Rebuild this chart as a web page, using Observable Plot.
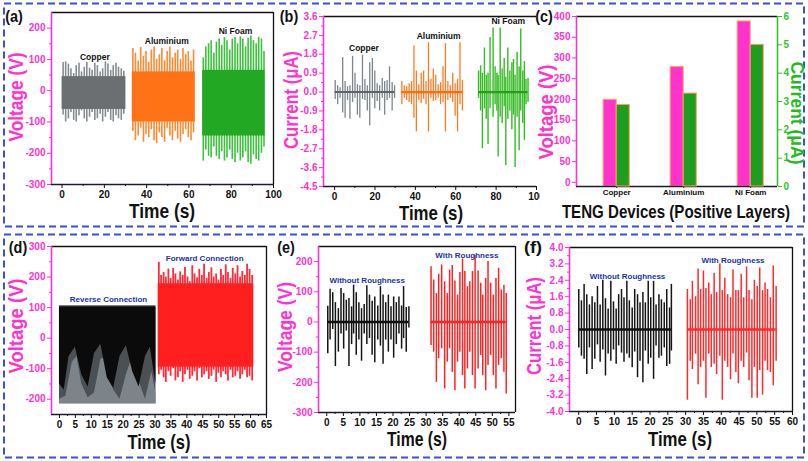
<!DOCTYPE html>
<html><head><meta charset="utf-8">
<script src="https://cdn.jsdelivr.net/npm/d3@7"></script>
<script src="https://cdn.jsdelivr.net/npm/@observablehq/plot@0.6"></script>
<style>
body{margin:0;background:#fff;}
#fig{position:relative;width:808px;height:461px;overflow:hidden;background:#fff;font-family:"Liberation Sans",Arial,Helvetica,sans-serif;}
.lbl{position:absolute;font-weight:bold;white-space:nowrap;line-height:0.9;transform-origin:50% 50%;}
</style></head>
<body><div id="fig"></div>
<script>
// ================= DATA =================
// (a) voltage, positive layers
const aNames = ["Copper", "Aluminium", "Ni Foam"];
const aCuT  = [0.5,1.7,3.0,4.2,5.5,6.7,8.0,9.2,10.5,11.7,13.0,14.2,15.5,16.7,18.0,19.2,20.5,21.7,23.0,24.2,25.5,26.7,28.0,29.2];
const aCuHi = [90,92,85,70,55,80,88,60,75,90,72,65,88,80,60,70,92,85,65,80,88,75,70,62];
const aCuLo = [-78,-100,-90,-70,-95,-100,-80,-65,-90,-100,-85,-70,-95,-90,-75,-100,-85,-70,-95,-100,-80,-90,-95,-75];
const aAlT  = [33.5,34.7,36.0,37.2,38.5,39.7,41.0,42.2,43.5,44.7,46.0,47.2,48.5,49.7,51.0,52.2,53.5,54.7,56.0,57.2,58.5,59.7,61.0,62.2];
const aAlHi = [135,120,95,138,110,125,90,130,140,100,115,135,95,125,140,105,120,130,100,135,115,125,95,130];
const aAlLo = [-130,-160,-145,-120,-165,-140,-150,-125,-160,-170,-135,-150,-165,-120,-145,-160,-130,-155,-165,-140,-125,-150,-160,-135];
const aNiT  = [66.8,68.0,69.3,70.5,71.8,73.0,74.3,75.5,76.8,78.0,79.3,80.5,81.8,83.0,84.3,85.5,86.8,88.0,89.3,90.5,91.8,93.0,94.3,95.5];
const aNiHi = [105,140,150,160,120,155,165,145,170,160,130,165,170,150,172,165,140,168,175,160,150,170,165,125];
const aNiLo = [-225,-190,-210,-215,-180,-210,-220,-195,-225,-215,-190,-220,-230,-200,-225,-215,-195,-230,-235,-205,-220,-225,-200,-180];
const aCoreStart = [0, 33.2, 66.5];
const aCoreEnd   = [30.2, 63.0, 96.0];
const aCoreLo    = [-60, -100, -145];
const aCoreHi    = [45, 60, 65];
const aNameT = [15.5, 49.5, 82];
const aNameV = [107, 158, 189];

// (b) current, positive layers
const bCuT  = [0.3,1.5,2.7,4.0,5.2,6.4,7.6,8.9,10.1,11.3,12.5,13.8,15.0,16.2,17.4,18.7,19.9,21.1,22.3,23.6,24.8,26.0,27.2,28.5,29.7];
const bCuHi = [0.55,0.3,0.2,1.65,0.5,0.25,0.3,1.7,0.9,0.35,0.3,1.75,0.6,0.3,1.4,1.6,1.0,0.4,0.3,0.65,0.5,0.55,1.2,0.45,0.3];
const bCuLo = [-0.35,-0.6,-0.3,-1.0,-1.25,-0.4,-1.3,-0.5,-0.3,-1.1,-1.25,-0.35,-0.4,-0.9,-1.6,-0.3,-0.8,-0.45,-0.9,-0.3,-1.1,-0.4,-0.3,-0.9,-0.3];
const bAlT  = [33.3,34.5,35.7,36.9,38.1,39.3,40.5,41.7,42.9,44.1,45.3,46.5,47.7,48.9,50.1,51.3,52.5,53.7,54.9,56.1,57.3,58.5,59.7,60.9,62.1,63.3];
const bAlHi = [0.5,0.3,0.25,0.4,0.5,2.2,1.0,0.35,0.9,1.0,0.5,2.35,0.6,1.1,0.8,0.35,0.45,1.2,2.3,0.5,0.3,0.9,0.4,0.6,2.35,0.55];
const bAlLo = [-0.6,-0.3,-0.4,-0.5,-0.6,-1.25,-1.9,-0.4,-0.55,-0.35,-0.6,-1.9,-0.3,-0.45,-0.4,-0.3,-0.6,-0.5,-1.9,-0.4,-0.3,-0.5,-1.15,-1.9,-0.6,-0.9];
const bNiT  = [71.3,72.3,73.2,74.2,75.1,76.0,77.0,78.5,79.5,80.4,81.0,82.0,83.0,84.0,84.8,85.8,86.8,87.8,88.6,89.4,90.4,91.4,92.2,93.2,94.0,94.8,95.8];
const bNiHi = [1.0,1.25,0.9,2.1,0.8,0.9,2.6,3.05,1.2,0.9,0.8,3.05,1.1,1.6,0.7,2.1,1.0,1.4,1.55,0.8,1.9,1.2,3.0,1.0,1.45,0.6,0.65];
const bNiLo = [-0.3,-0.9,-2.7,-0.8,-1.3,-2.5,-0.8,-1.2,-0.6,-0.9,-3.1,-1.2,-1.5,-0.7,-3.5,-1.3,-0.9,-1.8,-1.1,-3.6,-1.2,-2.8,-0.9,-1.5,-2.3,-0.6,-0.5];
const bNameT = [14.5, 51.5, 86];
const bNameI = [2.08, 2.65, 3.38];

// (c) TENG devices
const cCats = ["Copper", "Aluminium", "Ni Foam"];
const cVolt = [199, 278, 388];
const cCurr = [2.88, 3.28, 5.0];

// (d) reverse / forward connection
const dNames = ["Reverse Connection", "Forward Connection"];
const dBlockStart = [0, 31.0];
const dBlockEnd   = [30.3, 61.0];
const dBlockLo    = [-215, -95];
const dBlockHi    = [106, 178];
const dRevBlackT   = [0,1.5,3,5,7,9,11,13,15,17,19,21,23,25,27,28.5,30.3];
const dRevBlackLow = [-150,-170,-60,-30,-120,-160,-50,-20,-130,-165,-60,-25,-110,-160,-60,-30,-150];
const dRevLightT   = [0,2,4,5.5,7,9,11,13,15,17,19,21,23,25,27,29,30.3];
const dRevLightTop = [-200,-190,-80,-60,-150,-195,-180,-70,-60,-170,-200,-120,-60,-140,-200,-110,-180];
const dFwT  = [31.2,31.9,32.7,33.4,34.2,34.9,35.7,36.4,37.2,37.9,38.7,39.4,40.2,40.9,41.7,42.4,43.2,43.9,44.7,45.4,46.2,46.9,47.7,48.4,49.2,49.9,50.7,51.4,52.2,52.9,53.7,54.4,55.2,55.9,56.7,57.4,58.2,58.9,59.7,60.5];
const dFwHi = [248,205,215,200,226,195,228,210,190,217,205,231,200,185,237,210,198,225,205,242,195,215,230,200,210,190,225,205,240,215,195,228,210,237,200,218,205,242,225,205];
const dFwLo = [-120,-105,-130,-145,-110,-125,-100,-140,-130,-110,-145,-120,-105,-135,-125,-110,-140,-100,-130,-120,-110,-135,-125,-105,-145,-115,-130,-110,-120,-140,-105,-130,-125,-110,-135,-120,-105,-130,-125,-140];
const dNameT = [15.4, 45.6];
const dNameV = [127, 261];

// (e) voltage with / without roughness
const rNames = ["Without Roughness", "With Roughness"];
const eBkT  = [0.3,1.0,1.8,2.6,3.5,4.3,5.1,5.9,6.7,7.5,8.1,8.9,9.7,10.5,11.3,12.1,12.9,13.7,14.5,15.4,16.2,17.0,17.8,18.6,19.4,20.2,21.0,21.8,22.6,23.2,24.0,24.8];
const eBkHi = [52,108,97,64,44,111,94,72,78,50,122,97,64,44,58,120,89,69,83,53,117,89,64,89,50,83,64,83,53,117,48,50];
const eBkLo = [-105,-60,-25,-148,-100,-40,-90,-30,-148,-75,-40,-110,-60,-130,-40,-75,-55,-110,-135,-60,-80,-140,-60,-100,-60,-120,-75,-40,-90,-55,-100,-20];
const eRdT  = [31.5,32.3,33.1,33.8,34.7,35.6,36.4,37.1,37.9,38.7,39.5,40.2,41.0,41.7,42.5,43.2,44.0,44.8,45.7,46.5,47.1,48.0,48.7,49.5,50.3,51.1,51.9,52.7,53.5,54.2];
const eRdHi = [183,139,94,158,189,133,94,172,187,136,89,164,209,167,117,133,167,220,169,128,89,144,200,128,89,144,178,106,122,94];
const eRdLo = [-78,-100,-200,-122,-89,-222,-133,-89,-167,-228,-133,-100,-178,-222,-156,-100,-178,-222,-156,-111,-178,-228,-144,-111,-178,-222,-144,-122,-167,-239];
const eNameT = [12.2, 42.3];
const eNameV = [139, 222];

// (f) current with / without roughness
const fBkT  = [0.0,0.75,1.5,2.25,3.0,3.75,4.5,5.25,6.0,6.75,7.5,8.25,9.0,9.75,10.5,11.2,12.0,12.7,13.5,14.2,15.0,15.7,16.5,17.2,18.0,18.7,19.5,20.2,21.0,21.7,22.5,23.2,24.0,24.7,25.5,26.0];
const fBkHi = [1.95,1.4,2.2,1.7,1.2,1.6,1.3,2.1,1.2,2.4,1.5,1.0,2.35,1.35,1.0,1.7,1.95,1.55,2.35,1.4,1.05,1.95,1.7,1.3,1.8,1.3,2.35,1.55,2.35,1.2,1.7,1.45,1.3,1.95,1.05,2.2];
const fBkLo = [-0.9,-1.3,-1.45,-2.2,-0.9,-1.95,-1.45,-0.75,-1.6,-1.0,-2.27,-1.2,-1.55,-1.0,-1.7,-0.8,-1.15,-1.6,-1.2,-1.4,-1.87,-1.1,-2.35,-1.55,-2.6,-1.05,-1.7,-1.4,-2.43,-0.8,-1.4,-1.3,-0.9,-1.8,-1.7,-1.05];
const fRdT  = [30.5,31.3,31.9,32.8,33.5,34.2,35.0,35.7,36.5,37.2,38.0,38.7,39.6,40.3,41.0,41.8,42.6,43.3,44.1,44.8,45.6,46.3,47.1,47.8,48.6,49.3,50.1,50.8,51.6,52.3,53.0,53.8,54.6,55.4];
const fRdHi = [1.95,1.45,2.35,1.6,2.95,1.95,2.85,2.0,2.27,1.7,2.75,1.8,3.2,1.9,2.5,1.7,1.55,2.9,1.9,1.9,2.7,1.55,3.05,1.9,1.45,2.4,2.1,3.0,1.9,2.27,1.95,1.55,3.1,2.1];
const fRdLo = [-3.45,-1.55,-1.95,-1.2,-2.7,-1.85,-1.55,-3.35,-1.2,-1.85,-1.7,-2.2,-1.3,-3.45,-1.55,-1.85,-2.45,-1.2,-2.1,-2.65,-1.55,-1.85,-1.15,-2.5,-3.35,-1.85,-3.35,-2.0,-3.2,-1.55,-2.0,-2.1,-2.75,-1.55];
const fNameT = [13.7, 43.3];
const fNameI = [2.58, 3.37];

// tick values / labels
const ticksA = [0,20,40,60,80,100], minorA = [10,30,50,70,90];
const vTicksA = [-300,-200,-100,0,100,200], vMinorA = [-250,-150,-50,50,150];
const iTicksB = [-4.5,-3.6,-2.7,-1.8,-0.9,0,0.9,1.8,2.7,3.6];
const iMinorB = [-4.05,-3.15,-2.25,-1.35,-0.45,0.45,1.35,2.25,3.15];
const vTicksC = [0,50,100,150,200,250,300,350,400];
const iTicksC = [0,1,2,3,4,5,6];
const tTicksD = [0,5,10,15,20,25,30,35,40,45,50,55,60,65];
const tMinorD = [2.5,7.5,12.5,17.5,22.5,27.5,32.5,37.5,42.5,47.5,52.5,57.5,62.5];
const vTicksD = [-200,-100,0,100,200,300], vMinorD = [-150,-50,50,150,250];
const tTicksE = [0,5,10,15,20,25,30,35,40,45,50,55];
const tMinorE = [2.5,7.5,12.5,17.5,22.5,27.5,32.5,37.5,42.5,47.5,52.5];
const vTicksE = [-300,-200,-100,0,100,200], vMinorE = [-250,-150,-50,50,150];
const tTicksF = [0,5,10,15,20,25,30,35,40,45,50,55,60];
const tMinorF = [2.5,7.5,12.5,17.5,22.5,27.5,32.5,37.5,42.5,47.5,52.5,57.5];
const iTicksF = [-4.0,-3.2,-2.4,-1.6,-0.8,0,0.8,1.6,2.4,3.2,4.0];
const iMinorF = [-3.6,-2.8,-2.0,-1.2,-0.4,0.4,1.2,2.0,2.8,3.6];

// ================= DRAWING =================
const fig = document.getElementById("fig");
const PINK = "#ff33cc", BLACK = "#111", GREENAX = "#2fc42f", BLUE = "#2233aa";
const FONT = "'Liberation Sans', Arial, Helvetica, sans-serif";

// dashed boxes
fig.insertAdjacentHTML("beforeend",
  `<svg width="808" height="461" style="position:absolute;left:0;top:0">
    <rect x="4" y="3.5" width="800" height="223" fill="none" stroke="#3b4fd8" stroke-width="2" stroke-dasharray="7 4"/>
    <rect x="4" y="234.5" width="800" height="223" fill="none" stroke="#3b4fd8" stroke-width="2" stroke-dasharray="7 4"/>
  </svg>`);

function addPlot({x0, y0, x1, y1, xd, yd, marks, ml = 45, mr = 14, mt = 10, mb = 24, clip = false, xAxisOff = false}) {
  const svg = Plot.plot({
    width: x1 - x0 + ml + mr, height: y1 - y0 + mt + mb,
    marginLeft: ml, marginRight: mr, marginTop: mt, marginBottom: mb,
    x: xAxisOff ? {domain: xd, axis: null} : {domain: xd}, y: {domain: yd},
    style: {fontFamily: FONT, fontWeight: "bold", fontSize: "10px", background: "transparent", overflow: clip ? "hidden" : "visible"},
    marks
  });
  svg.style.position = "absolute";
  svg.style.left = (x0 - ml) + "px";
  svg.style.top = (y0 - mt) + "px";
  fig.appendChild(svg);
  return svg;
}
const fmtInt = d => String(d);
const fmt1 = d => d.toFixed(1);
function frameMarks(xd, yd, {top = true, right = true} = {}) {
  return [
    top ? Plot.ruleY([yd[1]], {stroke: BLACK, strokeWidth: 1.3}) : null,
    right ? Plot.ruleX([xd[1]], {stroke: BLACK, strokeWidth: 1.3}) : null,
    Plot.ruleY([yd[0]], {stroke: "#1a1a2e", strokeWidth: 1.6}),
    Plot.ruleX([xd[0]], {stroke: PINK, strokeWidth: 1.6})
  ];
}
function xAxes(major, minor, fmt = fmtInt, fs = 10, ts = 4, tp = 2) {
  return [
    Plot.axisX({ticks: major, tickSize: ts, tickPadding: tp, tickFormat: fmt, fill: BLACK, stroke: BLACK, fontSize: fs, fontWeight: "bold", label: null}),
    minor ? Plot.axisX({ticks: minor, tickSize: 2, tickFormat: () => "", stroke: BLACK, label: null}) : null
  ];
}
function yAxes(major, minor, fmt = fmtInt, color = PINK, anchor = "left") {
  return [
    Plot.axisY({anchor, ticks: major, tickSize: 4, tickPadding: 2, tickFormat: fmt, fill: color, stroke: color, fontSize: 10, fontWeight: "bold", label: null}),
    minor ? Plot.axisY({anchor, ticks: minor, tickSize: 2, tickFormat: () => "", stroke: color, label: null}) : null
  ];
}
function spikes(T, HI, LO, color, w) {
  const rows = T.map((t, i) => ({t, hi: HI[i], lo: LO[i]}));
  return Plot.ruleX(rows, {x: "t", y1: "lo", y2: "hi", stroke: color, strokeWidth: w});
}
function baseline(T, color, w) {
  return Plot.ruleY([{a: d3.min(T), b: d3.max(T)}], {y: () => 0, x1: "a", x2: "b", stroke: color, strokeWidth: w});
}
function names(N, X, Y, color, fs) {
  return Plot.text(N, {x: (d, i) => X[i], y: (d, i) => Y[i], text: d => d, fill: color, fontSize: fs, fontWeight: "bold"});
}

// ---- (a)
{
  const xd = [-5, 100], yd = [-300, 250];
  const cores = aCoreStart.map((s, i) => ({x1: s, x2: aCoreEnd[i], y1: aCoreLo[i], y2: aCoreHi[i], c: ["#6b6f72", "#ff7316", "#22a822"][i]}));
  addPlot({x0: 51, y0: 12, x1: 273, y1: 184, xd, yd, marks: [
    spikes(aCuT, aCuHi, aCuLo, "#878c90", 1.6),
    spikes(aAlT, aAlHi, aAlLo, "#ff8a30", 1.6),
    spikes(aNiT, aNiHi, aNiLo, "#3cc23c", 1.6),
    Plot.rect(cores, {x1: "x1", x2: "x2", y1: "y1", y2: "y2", fill: "c"}),
    names(aNames, aNameT, aNameV, BLACK, 8.5),
    ...frameMarks(xd, yd), ...xAxes(ticksA, minorA), ...yAxes(vTicksA, vMinorA)
  ]});
}
// ---- (b)
{
  const xd = [-5.5, 100], yd = [-4.5, 3.6];
  addPlot({x0: 323, y0: 16, x1: 536, y1: 186, xd, yd, mr: 4, clip: true, marks: [
    spikes(bCuT, bCuHi, bCuLo, "#7d868c", 1.3), baseline(bCuT, "#5d6367", 2),
    spikes(bAlT, bAlHi, bAlLo, "#ff7a22", 1.3), baseline(bAlT, "#ff6a10", 2.2),
    spikes(bNiT, bNiHi, bNiLo, "#33bb22", 1.4), baseline(bNiT, "#22a018", 2.2),
    names(aNames, bNameT, bNameI, BLACK, 8.5),
    ...frameMarks(xd, yd, {right: false}), ...xAxes(ticksA, minorA), ...yAxes(iTicksB, iMinorB, fmt1)
  ]});
}
// ---- (c)
{
  const xd = [0.4, 3.4], yd = [-10, 400];
  const rows = cCats.map((c, i) => ({i: i + 1, v: cVolt[i], a: cCurr[i]}));
  addPlot({x0: 576, y0: 16, x1: 777, y1: 186, xd, yd, mr: 30, marks: [
    Plot.rect(rows, {x1: d => d.i - 0.195, x2: d => d.i, y1: () => yd[0], y2: "v", fill: PINK, stroke: "#ffa060", strokeWidth: 1}),
    Plot.ruleY([yd[1]], {stroke: BLACK, strokeWidth: 1.3}),
    Plot.ruleY([yd[0]], {stroke: "#1a1a2e", strokeWidth: 1.6}),
    Plot.ruleX([xd[0]], {stroke: PINK, strokeWidth: 1.6}),
    ...xAxes([1, 2, 3], null, d => cCats[d - 1], 8, 2, 1),
    ...yAxes(vTicksC, null)
  ]});
  addPlot({x0: 576, y0: 16, x1: 777, y1: 186, xd, yd: [0, 6], mr: 30, xAxisOff: true, marks: [
    Plot.rect(rows, {x1: d => d.i, x2: d => d.i + 0.195, y1: () => 0, y2: "a", fill: "#1f9d1f", stroke: "#ffa060", strokeWidth: 1}),
    Plot.ruleX([xd[1]], {stroke: GREENAX, strokeWidth: 1.6}),
    ...yAxes(iTicksC, null, fmtInt, GREENAX, "right")
  ]});
}
// ---- (d)
{
  const xd = [-2.5, 65], yd = [-250, 300];
  const blocks = dBlockStart.map((s, i) => ({x1: s, x2: dBlockEnd[i], y1: dBlockLo[i], y2: dBlockHi[i], c: ["#4a5054", "#ff1f1f"][i]}));
  const light = dRevLightT.map((t, i) => ({t, v: dRevLightTop[i]}));
  const black = dRevBlackT.map((t, i) => ({t, v: dRevBlackLow[i]}));
  addPlot({x0: 51, y0: 246, x1: 266, y1: 414, xd, yd, marks: [
    spikes(dFwT, dFwHi, dFwLo, "#ff2b3a", 1.8),
    Plot.rect(blocks, {x1: "x1", x2: "x2", y1: "y1", y2: "y2", fill: "c"}),
    Plot.areaY(light, {x: "t", y1: () => dBlockLo[0], y2: "v", fill: "#7c8489"}),
    Plot.areaY(black, {x: "t", y1: "v", y2: () => dBlockHi[0] - 4, fill: "#0b0b0b"}),
    names(dNames, dNameT, dNameV, BLUE, 8),
    ...frameMarks(xd, yd), ...xAxes(tTicksD, tMinorD), ...yAxes(vTicksD, vMinorD)
  ]});
}
// ---- (e)
{
  const xd = [-2.5, 57], yd = [-300, 250];
  addPlot({x0: 318, y0: 246, x1: 515, y1: 412, xd, yd, marks: [
    spikes(eBkT, eBkHi, eBkLo, "#151515", 1.5), baseline(eBkT, "#111", 2.4),
    spikes(eRdT, eRdHi, eRdLo, "#ff2222", 1.5), baseline(eRdT, "#ff2222", 2.4),
    names(rNames, eNameT, eNameV, BLUE, 8),
    ...frameMarks(xd, yd), ...xAxes(tTicksE, tMinorE), ...yAxes(vTicksE, vMinorE)
  ]});
}
// ---- (f)
{
  const xd = [-2.6, 60], yd = [-4, 4];
  addPlot({x0: 569, y0: 247, x1: 792, y1: 411, xd, yd, marks: [
    spikes(fBkT, fBkHi, fBkLo, "#151515", 1.5), baseline(fBkT, "#111", 2.6),
    spikes(fRdT, fRdHi, fRdLo, "#ff2a2a", 1.5), baseline(fRdT, "#ff2a2a", 2.6),
    names(rNames, fNameT, fNameI, BLUE, 8),
    ...frameMarks(xd, yd), ...xAxes(tTicksF, tMinorF), ...yAxes(iTicksF, iMinorF, fmt1)
  ]});
}

// ================= TITLES =================
function label(text, cx, cy, size, color, rot, len) {
  const el = document.createElement("div");
  el.className = "lbl";
  el.textContent = text;
  el.style.fontSize = size + "px";
  el.style.color = color;
  el.style.left = cx + "px";
  el.style.top = cy + "px";
  fig.appendChild(el);
  const k = len ? len / el.offsetWidth : 1;
  el.style.transform = `translate(-50%,-50%) rotate(${rot}deg) scaleX(${k})`;
}
const panelTags = ["(a)", "(b)", "(c)", "(d)", "(e)", "(f)"];
const axisTitles = ["Time (s)", "Voltage (V)", "Current (μA)", "TENG Devices (Positive Layers)"];
[[14, 17], [289, 17], [544, 17], [18, 248], [286, 248], [533, 248]].forEach(([x, y], i) => label(panelTags[i], x, y, 16, BLACK, 0, 18));
// x titles
label(axisTitles[0], 162, 211, 21, BLACK, 0, 66);
label(axisTitles[0], 431, 213, 21, BLACK, 0, 64);
label(axisTitles[3], 676, 212, 19, BLACK, 0, 228);
label(axisTitles[0], 159, 442, 21, BLACK, 0, 63);
label(axisTitles[0], 417, 439, 21, BLACK, 0, 60);
label(axisTitles[0], 680, 439, 21, BLACK, 0, 64);
// y titles
label(axisTitles[1], 16, 97, 20, PINK, -90, 89);
label(axisTitles[2], 291, 100, 20, PINK, -90, 98);
label(axisTitles[1], 546, 112, 20, PINK, -90, 95);
label(axisTitles[2], 797, 113, 18, "#22bb22", 90, 103);
label(axisTitles[1], 16, 326, 20, PINK, -90, 95);
label(axisTitles[1], 285, 327, 20, PINK, -90, 90);
label(axisTitles[2], 534, 326, 20, PINK, -90, 98);
</script></body></html>
